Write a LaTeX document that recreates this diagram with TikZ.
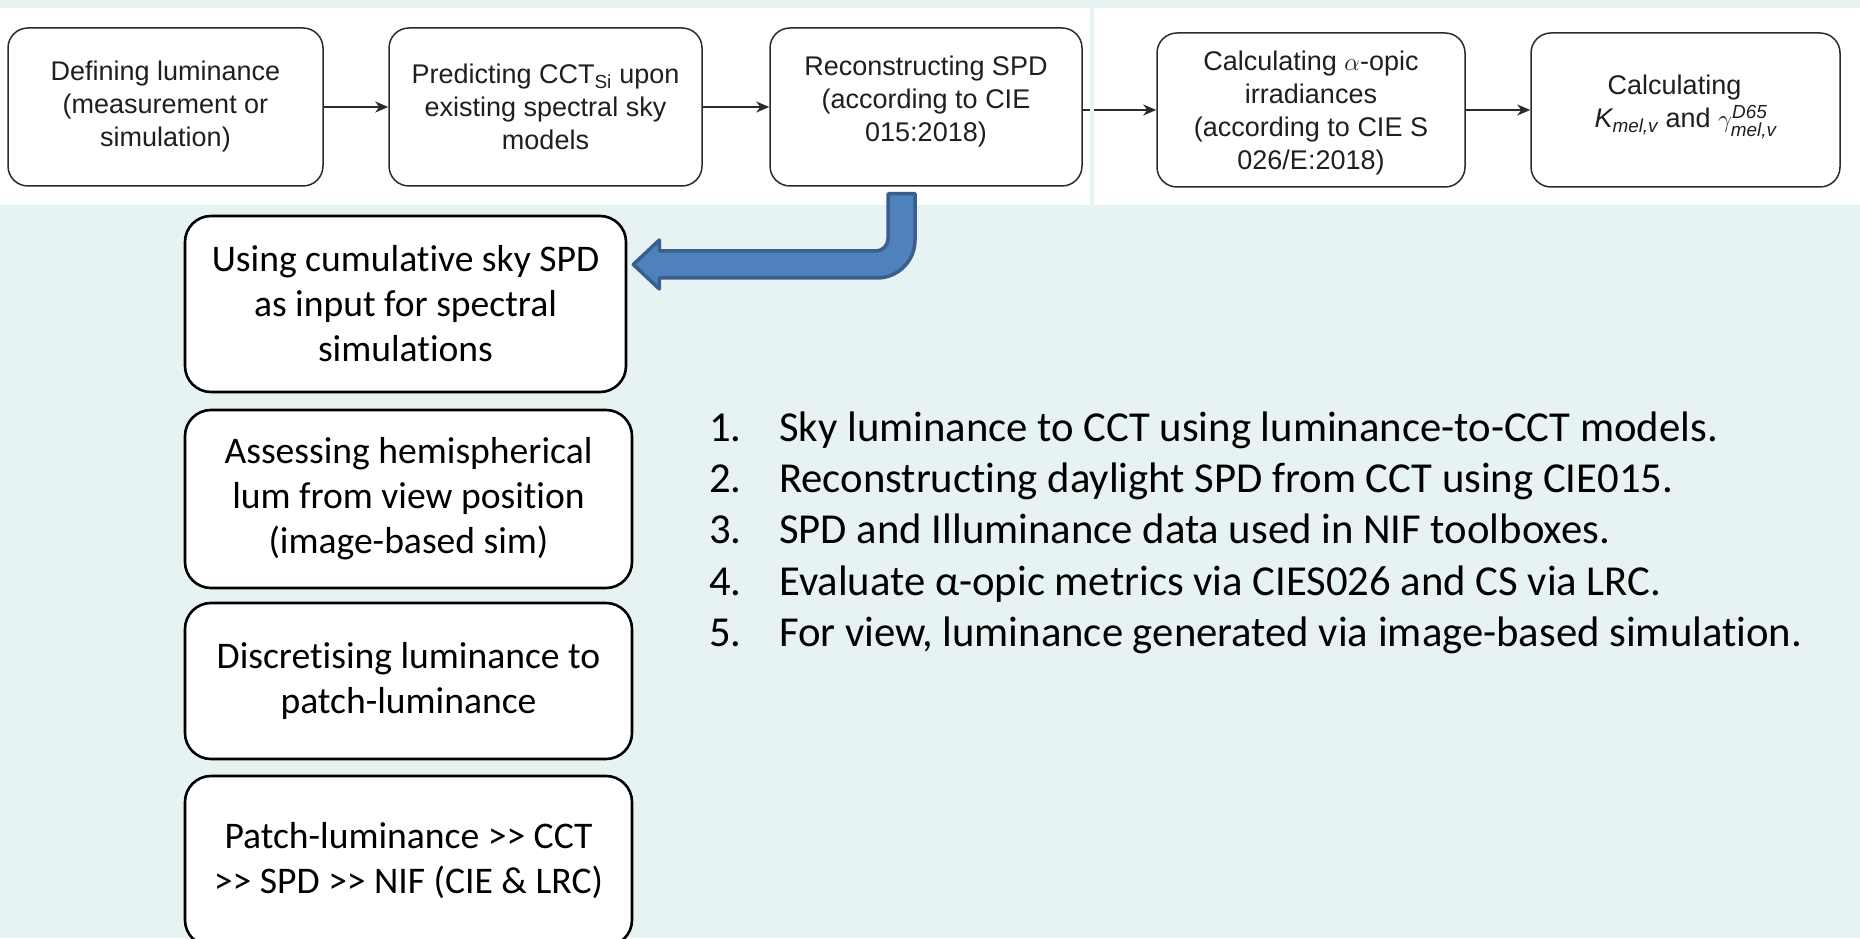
\documentclass[tikz,border=0pt]{standalone}
\usepackage{fontspec}
\usepackage{amsmath}
\setmainfont{Carlito}[Ligatures={TeX,NoCommon}]
\newfontfamily\arialf{Liberation Sans}
\usetikzlibrary{arrows.meta,calc}
\definecolor{bgteal}{HTML}{E7F3F3}
\definecolor{flowgray}{HTML}{2B2B2B}
\definecolor{arrfill}{HTML}{4F81BD}
\definecolor{arrline}{HTML}{3A5F8C}
\tikzset{
  topbox/.style={draw=flowgray, line width=1.5pt, fill=white, rounded corners=20pt,
    align=center, font=\arialf\fontsize{27}{33}\selectfont, text=black!88, inner sep=0pt},
  toptext/.style={align=center, font=\arialf\fontsize{27}{33}\selectfont, text=black!88, inner sep=0pt},
  botbox/.style={draw=black, line width=2.6pt, fill=white, rounded corners=26pt,
    align=center, font=\fontsize{37.6}{45}\selectfont, inner sep=0pt},
  listitem/.style={anchor=base west, font=\fontsize{42.7}{50}\selectfont, inner sep=0pt},
  flowarrow/.style={draw=flowgray, line width=1.9pt, -{Stealth[length=13pt,width=11pt,inset=4pt]}},
  blockarrow/.style={fill=arrfill, draw=arrline, line width=3.5pt, line join=round}
}
\begin{document}
\begin{tikzpicture}[x=1pt,y=1pt]
\useasboundingbox (0,0) rectangle (1860,938);
\clip (0,0) rectangle (1860,938);
% background and panels
\fill[bgteal] (0,0) rectangle (1860,938);
\fill[white] (0,733) rectangle (1090,930);
\fill[white] (1094,733) rectangle (1860,930);

% top flow boxes
\node[topbox, minimum width=315pt, minimum height=158pt] (box1) at (165.5,831)
  {Defining luminance\\(measurement or\\simulation)};
\node[topbox, minimum width=313pt, minimum height=158pt] (box2) at (545.5,831)
  {Predicting CCT\textsubscript{Si} upon\\existing spectral sky\\models};
\node[topbox, minimum width=312pt, minimum height=158pt] (box3) at (926,831) {};
\node[toptext] (box3t) at ($(box3.center)+(0,5)$)
  {Reconstructing SPD\\(according to CIE\\015:2018)};
\node[topbox, minimum width=308pt, minimum height=154pt] (box4) at (1311,828) {};
\node[toptext] (box4t) at ($(box4.center)+(0,-3)$)
  {Calculating $\alpha$-opic\\irradiances\\(according to CIE S\\026/E:2018)};
\node[topbox, minimum width=309pt, minimum height=154pt] (box5) at (1685.5,828) {};
\node[toptext] (box5t) at ($(box5.center)+(0,3)$)
  {Calculating\hspace*{22pt}\\{\itshape K}$_{\text{\itshape mel,v}}$ and $\gamma^{\text{\itshape D65}}_{\text{\itshape mel,v}}$};

% top connectors
\draw[flowarrow] (box1.east) -- (box2.west);
\draw[flowarrow] (box2.east) -- (box3.west);
\draw[flowarrow] (box3.east |- box4.west) -- (box4.west);
\draw[flowarrow] (box4.east) -- (box5.west);
% separator between the two top panels
\fill[bgteal] (1090,733) rectangle (1094,930);

% bottom boxes
\node[botbox, minimum width=441pt, minimum height=176pt] (b1) at (405.5,634)
  {Using cumulative sky SPD\\as input for spectral\\simulations};
\node[botbox, minimum width=447pt, minimum height=178pt] (b2) at (408.5,439)
  {Assessing hemispherical\\lum from view position\\(image-based sim)};
\node[botbox, minimum width=447pt, minimum height=156pt] (b3) at (408.5,257)
  {Discretising luminance to\\patch-luminance};
\node[botbox, minimum width=447pt, minimum height=170pt] (b4) at (408.5,77)
  {Patch-luminance >{}> CCT\\>{}> SPD >{}> NIF (CIE \& LRC)};

% block arrow from box3 to b1
\coordinate (bTop) at ($(box3.south)+(-24.5,-7)$);
\coordinate (bTip) at ($(b1.east)+(6,39.5)$);
\draw[blockarrow] let \p1=(bTop), \p2=(bTip) in
  (\x1-13.5pt,\y1) -- (\x1+13.5pt,\y1) -- (\x1+13.5pt,\y2+24.5pt)
  .. controls (\x1+13.5pt,\y2+3.5pt) and (\x1-3.5pt,\y2-13.5pt) .. (\x1-24.5pt,\y2-13.5pt)
  -- (\x2+26pt,\y2-13.5pt) -- (\x2+26pt,\y2-24.5pt) -- (\x2,\y2)
  -- (\x2+26pt,\y2+24.5pt) -- (\x2+26pt,\y2+13.5pt) -- (\x1-25.5pt,\y2+13.5pt)
  .. controls (\x1-19.1pt,\y2+13.5pt) and (\x1-13.5pt,\y2+19.1pt) .. (\x1-13.5pt,\y2+25.5pt)
  -- cycle;

% numbered list
\node[listitem] (n1) at (709,496) {1.};
\node[listitem] (t1) at (779,496) {Sky luminance to CCT using luminance-to-CCT models.};
\node[listitem] (n2) at (709,445) {2.};
\node[listitem] (t2) at (779,445) {Reconstructing daylight SPD from CCT using CIE015.};
\node[listitem] (n3) at (709,394) {3.};
\node[listitem] (t3) at (779,394) {SPD and Illuminance data used in NIF toolboxes.};
\node[listitem] (n4) at (709,343) {4.};
\node[listitem] (t4) at (779,343) {Evaluate α-opic metrics via CIES026 and CS via LRC.};
\node[listitem] (n5) at (709,292) {5.};
\node[listitem] (t5) at (779,292) {For view, luminance generated via image-based simulation.};
\end{tikzpicture}
\end{document}
